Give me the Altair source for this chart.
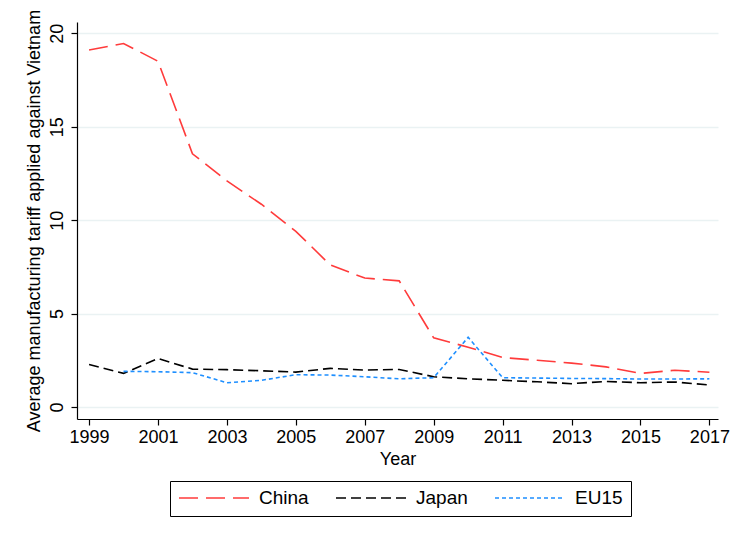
import altair as alt
import pandas as pd

years = [1999, 2000, 2001, 2002, 2003, 2004, 2005, 2006, 2007, 2008,
         2009, 2010, 2011, 2012, 2013, 2014, 2015, 2016, 2017]
china = [19.1, 19.45, 18.5, 13.55, 12.1, 10.85, 9.4, 7.6, 6.9, 6.75,
         3.7, 3.2, 2.65, 2.5, 2.35, 2.15, 1.8, 1.97, 1.86]
japan = [2.28, 1.8, 2.6, 2.03, 2.0, 1.94, 1.87, 2.07, 1.98, 2.01,
         1.62, 1.51, 1.43, 1.35, 1.25, 1.37, 1.3, 1.34, 1.18]
eu15 = [None, 1.91, 1.89, 1.84, 1.3, 1.43, 1.73, 1.71, 1.62, 1.51,
        1.57, 3.73, 1.57, 1.55, 1.53, 1.52, 1.5, 1.5, 1.51]

series_names = ["China", "Japan", "EU15"]
series_colors = ["#ff3b3b", "#000000", "#1e8fff"]
series_dashes = [[19, 8], [10, 5], [4, 3]]
x_ticks = [1999, 2001, 2003, 2005, 2007, 2009, 2011, 2013, 2015, 2017]
y_ticks = [0, 5, 10, 15, 20]

rows = []
for name, vals in zip(series_names, [china, japan, eu15]):
    for yr, v in zip(years, vals):
        if v is not None:
            rows.append({"year": yr, "value": v, "series": name})
df = pd.DataFrame(rows)

FONT = "Liberation Sans"

chart = alt.Chart(df).mark_line(strokeWidth=1.6).encode(
    x=alt.X("year:Q",
            scale=alt.Scale(domain=[1998.65, 2017.25], nice=False, zero=False),
            axis=alt.Axis(title="Year", values=x_ticks, format="d", grid=False,
                          labelFontSize=18, titleFontSize=18, tickSize=6,
                          labelPadding=3, titlePadding=4)),
    y=alt.Y("value:Q",
            scale=alt.Scale(domain=[-0.64, 20.6], nice=False, zero=False),
            axis=alt.Axis(title="Average manufacturing tariff applied against Vietnam",
                          values=y_ticks, labelAngle=270, labelAlign="center",
                          labelBaseline="bottom", labelFontSize=18, titleFontSize=18,
                          tickSize=6, labelPadding=5, titlePadding=5,
                          grid=True, gridColor="#eaf2f3", gridWidth=1.3)),
    color=alt.Color("series:N",
                    scale=alt.Scale(domain=series_names, range=series_colors),
                    legend=alt.Legend(title=None, orient="none", legendX=93, legendY=459,
                                      direction="horizontal", columns=3,
                                      symbolType="stroke", symbolSize=4900,
                                      symbolStrokeWidth=1.6, clipHeight=18,
                                      labelFontSize=19, labelOffset=9,
                                      columnPadding=26, padding=8,
                                      strokeColor="#000000", fillColor="#ffffff")),
    strokeDash=alt.StrokeDash("series:N",
                              scale=alt.Scale(domain=series_names, range=series_dashes),
                              legend=alt.Legend(title=None)),
).properties(
    width=641, height=397,
    autosize=alt.AutoSizeParams(type="none"),
    padding={"left": 69, "top": 14, "right": 13, "bottom": 105},
).configure(
    font=FONT,
    background="white",
).configure_view(
    stroke=None,
).configure_axis(
    domainColor="#000000", tickColor="#000000", labelColor="#000000",
    titleColor="#000000", titleFontWeight="normal", labelFont=FONT, titleFont=FONT,
    domainWidth=1.2, tickWidth=1.2,
).configure_legend(
    labelFont=FONT, labelColor="#000000",
)

chart.save("out.html", embed_options={"renderer": "svg", "actions": False})
